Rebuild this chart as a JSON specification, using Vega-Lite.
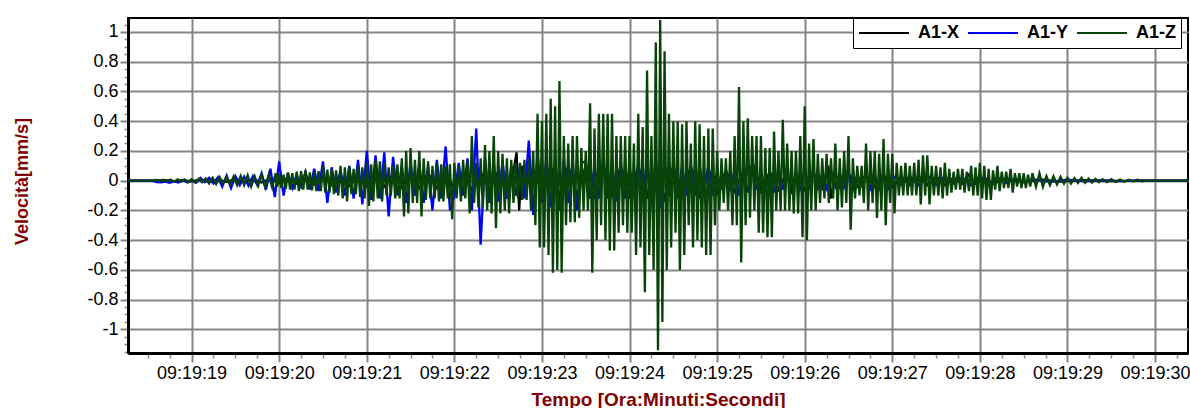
{
  "$schema": "https://vega.github.io/schema/vega-lite/v6.json",
  "width": 1060,
  "height": 335,
  "autosize": "none",
  "padding": {"left": 128, "top": 18, "right": 2, "bottom": 55},
  "background": "white",
  "config": {
    "view": {"stroke": "black", "strokeWidth": 2},
    "font": "Liberation Sans"
  },
  "data": {"values": [
    {"t":18.274,"c":"X","v":0},{"t":18.55,"c":"X","v":0},{"t":18.7,"c":"X","v":0.003},{"t":18.8,"c":"X","v":-0.004},{"t":18.9,"c":"X","v":0.004},{"t":19.0,"c":"X","v":-0.005},{"t":19.1,"c":"X","v":0.006},{"t":19.2,"c":"X","v":-0.006},{"t":19.3,"c":"X","v":0.007},{"t":19.4,"c":"X","v":-0.008},{"t":19.5,"c":"X","v":0.01},{"t":19.6,"c":"X","v":-0.01},{"t":19.7,"c":"X","v":0.012},{"t":19.8,"c":"X","v":-0.012},{"t":19.9,"c":"X","v":0.015},{"t":20.0,"c":"X","v":-0.015},
    {"t":20.1,"c":"X","v":0.02},{"t":20.2,"c":"X","v":-0.02},{"t":20.3,"c":"X","v":0.025},{"t":20.4,"c":"X","v":-0.025},{"t":20.5,"c":"X","v":0.03},{"t":20.6,"c":"X","v":-0.03},{"t":20.7,"c":"X","v":0.03},{"t":20.8,"c":"X","v":-0.035},{"t":20.9,"c":"X","v":0.035},{"t":21.0,"c":"X","v":-0.04},{"t":21.1,"c":"X","v":0.04},{"t":21.2,"c":"X","v":-0.04},{"t":21.3,"c":"X","v":0.045},{"t":21.4,"c":"X","v":-0.045},{"t":21.5,"c":"X","v":0.05},{"t":21.6,"c":"X","v":-0.05},{"t":21.7,"c":"X","v":0.05},{"t":21.8,"c":"X","v":-0.05},{"t":21.9,"c":"X","v":0.055},{"t":22.0,"c":"X","v":-0.055},
    {"t":22.1,"c":"X","v":0.06},{"t":22.2,"c":"X","v":-0.06},{"t":22.3,"c":"X","v":0.06},{"t":22.4,"c":"X","v":-0.06},{"t":22.5,"c":"X","v":0.06},{"t":22.6,"c":"X","v":-0.07},{"t":22.68,"c":"X","v":0.08},{"t":22.71,"c":"X","v":0.19},{"t":22.74,"c":"X","v":-0.2},{"t":22.77,"c":"X","v":0.1},{"t":22.8,"c":"X","v":-0.07},{"t":22.9,"c":"X","v":0.08},{"t":23.0,"c":"X","v":-0.08},
    {"t":23.1,"c":"X","v":0.1},{"t":23.2,"c":"X","v":-0.1},{"t":23.3,"c":"X","v":0.1},{"t":23.4,"c":"X","v":-0.1},{"t":23.5,"c":"X","v":0.1},{"t":23.6,"c":"X","v":-0.1},{"t":23.7,"c":"X","v":0.1},{"t":23.8,"c":"X","v":-0.1},{"t":23.9,"c":"X","v":0.1},{"t":24.0,"c":"X","v":-0.1},{"t":24.1,"c":"X","v":0.1},{"t":24.2,"c":"X","v":-0.12},{"t":24.25,"c":"X","v":0.05},{"t":24.27,"c":"X","v":-0.23},{"t":24.3,"c":"X","v":0.1},{"t":24.4,"c":"X","v":-0.12},{"t":24.5,"c":"X","v":0.1},{"t":24.6,"c":"X","v":-0.1},{"t":24.7,"c":"X","v":0.1},{"t":24.8,"c":"X","v":-0.1},{"t":24.9,"c":"X","v":0.08},{"t":25.0,"c":"X","v":-0.08},
    {"t":25.1,"c":"X","v":0.07},{"t":25.2,"c":"X","v":-0.07},{"t":25.3,"c":"X","v":0.07},{"t":25.42,"c":"X","v":0.1},{"t":25.5,"c":"X","v":-0.07},{"t":25.6,"c":"X","v":0.06},{"t":25.7,"c":"X","v":-0.06},{"t":25.8,"c":"X","v":0.06},{"t":25.85,"c":"X","v":-0.09},{"t":25.9,"c":"X","v":0.05},{"t":26.0,"c":"X","v":-0.06},{"t":26.1,"c":"X","v":0.05},{"t":26.2,"c":"X","v":-0.05},{"t":26.27,"c":"X","v":0.1},{"t":26.3,"c":"X","v":-0.12},{"t":26.35,"c":"X","v":0.05},{"t":26.4,"c":"X","v":-0.04},{"t":26.5,"c":"X","v":0.05},{"t":26.6,"c":"X","v":-0.04},{"t":26.7,"c":"X","v":0.04},{"t":26.8,"c":"X","v":-0.04},{"t":26.9,"c":"X","v":0.04},{"t":27.0,"c":"X","v":-0.04},
    {"t":27.1,"c":"X","v":0.03},{"t":27.2,"c":"X","v":-0.03},{"t":27.3,"c":"X","v":0.03},{"t":27.4,"c":"X","v":-0.03},{"t":27.5,"c":"X","v":0.03},{"t":27.6,"c":"X","v":-0.03},{"t":27.7,"c":"X","v":0.02},{"t":27.8,"c":"X","v":-0.02},{"t":27.87,"c":"X","v":0.04},{"t":27.95,"c":"X","v":-0.02},{"t":28.05,"c":"X","v":0.02},{"t":28.15,"c":"X","v":-0.02},{"t":28.3,"c":"X","v":0.015},{"t":28.5,"c":"X","v":-0.01},{"t":28.7,"c":"X","v":0.008},{"t":28.9,"c":"X","v":-0.006},{"t":29.2,"c":"X","v":0.004},{"t":29.5,"c":"X","v":-0.003},{"t":29.9,"c":"X","v":0},{"t":30.376,"c":"X","v":0},

    {"t":18.274,"c":"Y","v":0},{"t":18.55,"c":"Y","v":0},{"t":18.6,"c":"Y","v":-0.01},{"t":18.65,"c":"Y","v":-0.012},{"t":18.7,"c":"Y","v":-0.006},{"t":18.75,"c":"Y","v":-0.014},{"t":18.8,"c":"Y","v":-0.005},{"t":18.85,"c":"Y","v":-0.013},{"t":18.9,"c":"Y","v":0.004},{"t":18.95,"c":"Y","v":-0.012},{"t":19.0,"c":"Y","v":0.006},{"t":19.05,"c":"Y","v":-0.014},{"t":19.1,"c":"Y","v":0.018},{"t":19.15,"c":"Y","v":-0.01},{"t":19.2,"c":"Y","v":0.02},{"t":19.25,"c":"Y","v":-0.02},{"t":19.3,"c":"Y","v":0.022},{"t":19.35,"c":"Y","v":-0.04},{"t":19.4,"c":"Y","v":0.035},{"t":19.45,"c":"Y","v":-0.05},{"t":19.5,"c":"Y","v":0.03},{"t":19.55,"c":"Y","v":-0.03},{"t":19.6,"c":"Y","v":0.028},{"t":19.65,"c":"Y","v":-0.035},{"t":19.7,"c":"Y","v":0.03},{"t":19.75,"c":"Y","v":-0.03},{"t":19.8,"c":"Y","v":0.05},{"t":19.85,"c":"Y","v":-0.06},{"t":19.9,"c":"Y","v":0.08},{"t":19.95,"c":"Y","v":-0.11},{"t":20.0,"c":"Y","v":0.13},
    {"t":20.05,"c":"Y","v":-0.1},{"t":20.1,"c":"Y","v":0.05},{"t":20.15,"c":"Y","v":-0.05},{"t":20.2,"c":"Y","v":0.04},{"t":20.25,"c":"Y","v":-0.04},{"t":20.3,"c":"Y","v":0.06},{"t":20.35,"c":"Y","v":-0.06},{"t":20.4,"c":"Y","v":0.08},{"t":20.45,"c":"Y","v":-0.07},{"t":20.5,"c":"Y","v":0.13},{"t":20.55,"c":"Y","v":-0.15},{"t":20.6,"c":"Y","v":0.09},{"t":20.65,"c":"Y","v":-0.08},{"t":20.7,"c":"Y","v":0.07},{"t":20.75,"c":"Y","v":-0.1},{"t":20.8,"c":"Y","v":0.1},{"t":20.85,"c":"Y","v":-0.12},{"t":20.9,"c":"Y","v":0.14},{"t":20.95,"c":"Y","v":-0.16},{"t":21.0,"c":"Y","v":0.2},
    {"t":21.05,"c":"Y","v":-0.13},{"t":21.1,"c":"Y","v":0.17},{"t":21.15,"c":"Y","v":-0.12},{"t":21.2,"c":"Y","v":0.19},{"t":21.25,"c":"Y","v":-0.24},{"t":21.3,"c":"Y","v":0.16},{"t":21.35,"c":"Y","v":-0.1},{"t":21.4,"c":"Y","v":0.1},{"t":21.45,"c":"Y","v":-0.15},{"t":21.5,"c":"Y","v":0.12},{"t":21.55,"c":"Y","v":-0.1},{"t":21.6,"c":"Y","v":0.12},{"t":21.65,"c":"Y","v":-0.15},{"t":21.7,"c":"Y","v":0.1},{"t":21.75,"c":"Y","v":-0.2},{"t":21.8,"c":"Y","v":0.14},{"t":21.85,"c":"Y","v":-0.12},{"t":21.9,"c":"Y","v":0.23},{"t":21.95,"c":"Y","v":-0.2},
    {"t":22.0,"c":"Y","v":-0.1},{"t":22.05,"c":"Y","v":0.12},{"t":22.1,"c":"Y","v":-0.1},{"t":22.15,"c":"Y","v":0.15},{"t":22.2,"c":"Y","v":-0.2},{"t":22.25,"c":"Y","v":0.35},{"t":22.3,"c":"Y","v":-0.43},{"t":22.35,"c":"Y","v":0.15},{"t":22.4,"c":"Y","v":-0.15},{"t":22.45,"c":"Y","v":0.12},{"t":22.5,"c":"Y","v":-0.14},{"t":22.55,"c":"Y","v":0.13},{"t":22.6,"c":"Y","v":-0.12},{"t":22.65,"c":"Y","v":0.1},{"t":22.7,"c":"Y","v":-0.1},{"t":22.75,"c":"Y","v":0.1},{"t":22.8,"c":"Y","v":-0.12},{"t":22.85,"c":"Y","v":0.27},{"t":22.9,"c":"Y","v":-0.23},{"t":22.95,"c":"Y","v":0.18},{"t":23.0,"c":"Y","v":-0.15},
    {"t":23.05,"c":"Y","v":0.15},{"t":23.1,"c":"Y","v":-0.18},{"t":23.15,"c":"Y","v":0.15},{"t":23.2,"c":"Y","v":-0.2},{"t":23.25,"c":"Y","v":0.15},{"t":23.3,"c":"Y","v":-0.15},{"t":23.35,"c":"Y","v":0.12},{"t":23.4,"c":"Y","v":-0.2},{"t":23.45,"c":"Y","v":0.12},{"t":23.5,"c":"Y","v":0.13},{"t":23.55,"c":"Y","v":-0.12},{"t":23.6,"c":"Y","v":0.1},{"t":23.65,"c":"Y","v":-0.12},{"t":23.7,"c":"Y","v":0.14},{"t":23.75,"c":"Y","v":-0.12},{"t":23.8,"c":"Y","v":0.12},{"t":23.85,"c":"Y","v":-0.14},{"t":23.9,"c":"Y","v":0.1},{"t":23.95,"c":"Y","v":-0.12},{"t":24.0,"c":"Y","v":0.1},
    {"t":24.05,"c":"Y","v":-0.12},{"t":24.1,"c":"Y","v":0.12},{"t":24.15,"c":"Y","v":-0.1},{"t":24.2,"c":"Y","v":0.14},{"t":24.25,"c":"Y","v":-0.12},{"t":24.3,"c":"Y","v":0.15},{"t":24.35,"c":"Y","v":-0.18},{"t":24.4,"c":"Y","v":0.12},{"t":24.45,"c":"Y","v":-0.1},{"t":24.5,"c":"Y","v":0.1},{"t":24.55,"c":"Y","v":-0.12},{"t":24.6,"c":"Y","v":0.1},{"t":24.65,"c":"Y","v":-0.1},{"t":24.7,"c":"Y","v":0.08},{"t":24.75,"c":"Y","v":-0.1},{"t":24.8,"c":"Y","v":0.1},{"t":24.85,"c":"Y","v":-0.08},{"t":24.9,"c":"Y","v":0.1},{"t":24.95,"c":"Y","v":-0.1},
    {"t":25.0,"c":"Y","v":0.06},{"t":25.05,"c":"Y","v":-0.06},{"t":25.1,"c":"Y","v":0.06},{"t":25.15,"c":"Y","v":-0.07},{"t":25.2,"c":"Y","v":0.08},{"t":25.25,"c":"Y","v":-0.1},{"t":25.3,"c":"Y","v":0.08},{"t":25.35,"c":"Y","v":-0.08},{"t":25.4,"c":"Y","v":0.07},{"t":25.45,"c":"Y","v":-0.06},{"t":25.5,"c":"Y","v":0.07},{"t":25.55,"c":"Y","v":-0.08},{"t":25.6,"c":"Y","v":0.06},{"t":25.65,"c":"Y","v":-0.08},{"t":25.7,"c":"Y","v":0.07},{"t":25.75,"c":"Y","v":-0.06},{"t":25.8,"c":"Y","v":0.06},{"t":25.85,"c":"Y","v":-0.06},{"t":25.9,"c":"Y","v":0.05},{"t":25.95,"c":"Y","v":-0.07},
    {"t":26.0,"c":"Y","v":0.08},{"t":26.05,"c":"Y","v":-0.06},{"t":26.1,"c":"Y","v":0.05},{"t":26.15,"c":"Y","v":-0.05},{"t":26.2,"c":"Y","v":0.04},{"t":26.25,"c":"Y","v":-0.05},{"t":26.3,"c":"Y","v":0.05},{"t":26.35,"c":"Y","v":-0.04},{"t":26.4,"c":"Y","v":0.05},{"t":26.45,"c":"Y","v":-0.04},{"t":26.5,"c":"Y","v":0.06},{"t":26.55,"c":"Y","v":-0.06},{"t":26.6,"c":"Y","v":0.04},{"t":26.65,"c":"Y","v":-0.03},{"t":26.7,"c":"Y","v":0.04},{"t":26.75,"c":"Y","v":-0.05},{"t":26.8,"c":"Y","v":0.04},{"t":26.85,"c":"Y","v":-0.05},{"t":26.9,"c":"Y","v":0.05},{"t":26.95,"c":"Y","v":-0.05},
    {"t":27.0,"c":"Y","v":0.04},{"t":27.1,"c":"Y","v":-0.03},{"t":27.2,"c":"Y","v":0.03},{"t":27.3,"c":"Y","v":-0.03},{"t":27.4,"c":"Y","v":0.04},{"t":27.5,"c":"Y","v":-0.03},{"t":27.6,"c":"Y","v":0.03},{"t":27.7,"c":"Y","v":-0.02},{"t":27.8,"c":"Y","v":0.02},{"t":27.9,"c":"Y","v":-0.03},{"t":28.0,"c":"Y","v":0.03},{"t":28.1,"c":"Y","v":-0.03},{"t":28.2,"c":"Y","v":0.02},{"t":28.3,"c":"Y","v":-0.015},{"t":28.4,"c":"Y","v":0.015},{"t":28.5,"c":"Y","v":-0.01},{"t":28.6,"c":"Y","v":0.01},{"t":28.8,"c":"Y","v":-0.008},{"t":29.0,"c":"Y","v":0.006},{"t":29.2,"c":"Y","v":-0.005},{"t":29.4,"c":"Y","v":0.004},{"t":29.6,"c":"Y","v":-0.003},{"t":29.8,"c":"Y","v":0.002},{"t":29.9,"c":"Y","v":0},{"t":30.376,"c":"Y","v":0},

    {"t":18.274,"c":"Z","v":0},{"t":18.55,"c":"Z","v":0},{"t":18.6,"c":"Z","v":0.005},{"t":18.64,"c":"Z","v":-0.005},{"t":18.68,"c":"Z","v":0.006},{"t":18.72,"c":"Z","v":-0.006},{"t":18.76,"c":"Z","v":0.007},{"t":18.8,"c":"Z","v":-0.008},{"t":18.84,"c":"Z","v":0.008},{"t":18.88,"c":"Z","v":-0.007},{"t":18.92,"c":"Z","v":0.009},{"t":18.96,"c":"Z","v":-0.01},
    {"t":19.0,"c":"Z","v":0.01},{"t":19.04,"c":"Z","v":-0.012},{"t":19.08,"c":"Z","v":0.012},{"t":19.12,"c":"Z","v":-0.01},{"t":19.16,"c":"Z","v":0.014},{"t":19.2,"c":"Z","v":-0.018},{"t":19.24,"c":"Z","v":0.02},{"t":19.28,"c":"Z","v":-0.022},{"t":19.32,"c":"Z","v":0.025},{"t":19.36,"c":"Z","v":-0.02},{"t":19.4,"c":"Z","v":0.022},{"t":19.44,"c":"Z","v":-0.025},{"t":19.48,"c":"Z","v":0.028},{"t":19.52,"c":"Z","v":-0.03},{"t":19.56,"c":"Z","v":0.032},{"t":19.6,"c":"Z","v":-0.03},{"t":19.64,"c":"Z","v":0.035},{"t":19.68,"c":"Z","v":-0.04},{"t":19.72,"c":"Z","v":0.03},{"t":19.76,"c":"Z","v":-0.035},{"t":19.8,"c":"Z","v":0.04},{"t":19.84,"c":"Z","v":-0.045},{"t":19.88,"c":"Z","v":0.04},{"t":19.92,"c":"Z","v":-0.045},{"t":19.96,"c":"Z","v":0.05},{"t":19.98,"c":"Z","v":-0.04},
    {"t":20.0,"c":"Z","v":0.045},{"t":20.025,"c":"Z","v":-0.05},{"t":20.05,"c":"Z","v":0.04},{"t":20.075,"c":"Z","v":-0.055},
    {"t":20.1,"c":"Z","v":0.055},{"t":20.125,"c":"Z","v":-0.06},{"t":20.15,"c":"Z","v":0.05},{"t":20.175,"c":"Z","v":-0.06},
    {"t":20.2,"c":"Z","v":0.06},{"t":20.225,"c":"Z","v":-0.07},{"t":20.25,"c":"Z","v":0.065},{"t":20.275,"c":"Z","v":-0.06},
    {"t":20.3,"c":"Z","v":0.07},{"t":20.325,"c":"Z","v":-0.06},{"t":20.35,"c":"Z","v":0.055},{"t":20.375,"c":"Z","v":-0.065},
    {"t":20.4,"c":"Z","v":0.06},{"t":20.425,"c":"Z","v":-0.07},{"t":20.45,"c":"Z","v":0.065},{"t":20.475,"c":"Z","v":-0.07},
    {"t":20.5,"c":"Z","v":0.1},{"t":20.525,"c":"Z","v":-0.08},{"t":20.55,"c":"Z","v":0.075},{"t":20.575,"c":"Z","v":-0.08},
    {"t":20.6,"c":"Z","v":0.08},{"t":20.625,"c":"Z","v":-0.09},{"t":20.65,"c":"Z","v":0.07},{"t":20.675,"c":"Z","v":-0.1},
    {"t":20.7,"c":"Z","v":0.1},{"t":20.725,"c":"Z","v":-0.12},{"t":20.75,"c":"Z","v":0.09},{"t":20.775,"c":"Z","v":-0.14},
    {"t":20.8,"c":"Z","v":0.1},{"t":20.825,"c":"Z","v":-0.09},{"t":20.85,"c":"Z","v":0.08},{"t":20.875,"c":"Z","v":-0.09},
    {"t":20.9,"c":"Z","v":0.1},{"t":20.925,"c":"Z","v":-0.11},{"t":20.95,"c":"Z","v":0.09},{"t":20.975,"c":"Z","v":-0.12},
    {"t":21.0,"c":"Z","v":0.12},{"t":21.025,"c":"Z","v":-0.17},{"t":21.05,"c":"Z","v":0.11},{"t":21.075,"c":"Z","v":-0.14},
    {"t":21.1,"c":"Z","v":0.14},{"t":21.125,"c":"Z","v":-0.12},{"t":21.15,"c":"Z","v":0.13},{"t":21.175,"c":"Z","v":-0.14},
    {"t":21.2,"c":"Z","v":0.12},{"t":21.225,"c":"Z","v":-0.1},{"t":21.25,"c":"Z","v":0.09},{"t":21.275,"c":"Z","v":-0.1},
    {"t":21.3,"c":"Z","v":0.1},{"t":21.325,"c":"Z","v":-0.12},{"t":21.35,"c":"Z","v":0.11},{"t":21.375,"c":"Z","v":-0.12},
    {"t":21.4,"c":"Z","v":0.15},{"t":21.425,"c":"Z","v":-0.24},{"t":21.45,"c":"Z","v":0.2},{"t":21.475,"c":"Z","v":-0.22},
    {"t":21.5,"c":"Z","v":0.22},{"t":21.525,"c":"Z","v":-0.15},{"t":21.55,"c":"Z","v":0.14},{"t":21.575,"c":"Z","v":-0.15},
    {"t":21.6,"c":"Z","v":0.2},{"t":21.625,"c":"Z","v":-0.24},{"t":21.65,"c":"Z","v":0.15},{"t":21.675,"c":"Z","v":-0.13},
    {"t":21.7,"c":"Z","v":0.13},{"t":21.725,"c":"Z","v":-0.12},{"t":21.75,"c":"Z","v":0.1},{"t":21.775,"c":"Z","v":-0.12},
    {"t":21.8,"c":"Z","v":0.12},{"t":21.825,"c":"Z","v":-0.14},{"t":21.85,"c":"Z","v":0.11},{"t":21.875,"c":"Z","v":-0.14},
    {"t":21.9,"c":"Z","v":0.1},{"t":21.925,"c":"Z","v":-0.12},{"t":21.95,"c":"Z","v":0.11},{"t":21.975,"c":"Z","v":-0.26},
    {"t":22.0,"c":"Z","v":0.12},{"t":22.025,"c":"Z","v":-0.12},{"t":22.05,"c":"Z","v":0.1},{"t":22.075,"c":"Z","v":-0.14},
    {"t":22.1,"c":"Z","v":0.14},{"t":22.125,"c":"Z","v":-0.12},{"t":22.15,"c":"Z","v":0.13},{"t":22.175,"c":"Z","v":-0.22},
    {"t":22.2,"c":"Z","v":0.3},{"t":22.225,"c":"Z","v":-0.15},{"t":22.25,"c":"Z","v":0.12},{"t":22.275,"c":"Z","v":-0.18},
    {"t":22.3,"c":"Z","v":0.15},{"t":22.325,"c":"Z","v":-0.18},{"t":22.35,"c":"Z","v":0.24},{"t":22.375,"c":"Z","v":-0.2},
    {"t":22.4,"c":"Z","v":0.2},{"t":22.425,"c":"Z","v":-0.22},{"t":22.45,"c":"Z","v":0.3},{"t":22.475,"c":"Z","v":-0.32},
    {"t":22.5,"c":"Z","v":0.2},{"t":22.525,"c":"Z","v":-0.22},{"t":22.55,"c":"Z","v":0.18},{"t":22.575,"c":"Z","v":-0.2},
    {"t":22.6,"c":"Z","v":0.15},{"t":22.625,"c":"Z","v":-0.22},{"t":22.65,"c":"Z","v":0.14},{"t":22.675,"c":"Z","v":-0.15},
    {"t":22.7,"c":"Z","v":0.12},{"t":22.725,"c":"Z","v":-0.12},{"t":22.75,"c":"Z","v":0.12},{"t":22.775,"c":"Z","v":-0.13},
    {"t":22.8,"c":"Z","v":0.14},{"t":22.825,"c":"Z","v":-0.13},{"t":22.85,"c":"Z","v":0.15},{"t":22.875,"c":"Z","v":-0.2},
    {"t":22.9,"c":"Z","v":0.2},{"t":22.925,"c":"Z","v":-0.3},{"t":22.95,"c":"Z","v":0.45},{"t":22.975,"c":"Z","v":-0.45},
    {"t":23.0,"c":"Z","v":0.4},{"t":23.025,"c":"Z","v":-0.45},{"t":23.05,"c":"Z","v":0.45},{"t":23.075,"c":"Z","v":-0.5},
    {"t":23.1,"c":"Z","v":0.55},{"t":23.125,"c":"Z","v":-0.62},{"t":23.15,"c":"Z","v":0.5},{"t":23.175,"c":"Z","v":-0.6},
    {"t":23.2,"c":"Z","v":0.67},{"t":23.225,"c":"Z","v":-0.62},{"t":23.25,"c":"Z","v":0.3},{"t":23.275,"c":"Z","v":-0.3},
    {"t":23.3,"c":"Z","v":0.25},{"t":23.325,"c":"Z","v":-0.28},{"t":23.35,"c":"Z","v":0.3},{"t":23.375,"c":"Z","v":-0.28},
    {"t":23.4,"c":"Z","v":0.3},{"t":23.425,"c":"Z","v":-0.25},{"t":23.45,"c":"Z","v":0.22},{"t":23.475,"c":"Z","v":-0.2},
    {"t":23.5,"c":"Z","v":0.2},{"t":23.525,"c":"Z","v":-0.2},{"t":23.55,"c":"Z","v":0.52},{"t":23.575,"c":"Z","v":-0.62},
    {"t":23.6,"c":"Z","v":0.35},{"t":23.625,"c":"Z","v":-0.4},{"t":23.65,"c":"Z","v":0.45},{"t":23.675,"c":"Z","v":-0.3},
    {"t":23.7,"c":"Z","v":0.45},{"t":23.725,"c":"Z","v":-0.4},{"t":23.75,"c":"Z","v":0.45},{"t":23.775,"c":"Z","v":-0.47},
    {"t":23.8,"c":"Z","v":0.45},{"t":23.825,"c":"Z","v":-0.47},{"t":23.85,"c":"Z","v":0.3},{"t":23.875,"c":"Z","v":-0.35},
    {"t":23.9,"c":"Z","v":0.3},{"t":23.925,"c":"Z","v":-0.3},{"t":23.95,"c":"Z","v":0.3},{"t":23.975,"c":"Z","v":-0.35},
    {"t":24.0,"c":"Z","v":0.3},{"t":24.025,"c":"Z","v":-0.35},{"t":24.05,"c":"Z","v":0.25},{"t":24.075,"c":"Z","v":-0.5},
    {"t":24.1,"c":"Z","v":0.45},{"t":24.125,"c":"Z","v":-0.45},{"t":24.15,"c":"Z","v":0.36},{"t":24.175,"c":"Z","v":-0.75},
    {"t":24.2,"c":"Z","v":0.74},{"t":24.225,"c":"Z","v":-0.5},{"t":24.25,"c":"Z","v":0.3},{"t":24.275,"c":"Z","v":-0.6},
    {"t":24.3,"c":"Z","v":0.93},{"t":24.325,"c":"Z","v":-1.14},{"t":24.35,"c":"Z","v":1.08},{"t":24.375,"c":"Z","v":-0.95},
    {"t":24.4,"c":"Z","v":0.87},{"t":24.425,"c":"Z","v":-0.6},{"t":24.45,"c":"Z","v":0.45},{"t":24.475,"c":"Z","v":-0.45},
    {"t":24.5,"c":"Z","v":0.4},{"t":24.525,"c":"Z","v":-0.35},{"t":24.55,"c":"Z","v":0.4},{"t":24.575,"c":"Z","v":-0.6},
    {"t":24.6,"c":"Z","v":0.38},{"t":24.625,"c":"Z","v":-0.5},{"t":24.65,"c":"Z","v":0.4},{"t":24.675,"c":"Z","v":-0.3},
    {"t":24.7,"c":"Z","v":0.25},{"t":24.725,"c":"Z","v":-0.45},{"t":24.75,"c":"Z","v":0.4},{"t":24.775,"c":"Z","v":-0.4},
    {"t":24.8,"c":"Z","v":0.38},{"t":24.825,"c":"Z","v":-0.45},{"t":24.85,"c":"Z","v":0.3},{"t":24.875,"c":"Z","v":-0.5},
    {"t":24.9,"c":"Z","v":0.35},{"t":24.925,"c":"Z","v":-0.5},{"t":24.95,"c":"Z","v":0.35},{"t":24.975,"c":"Z","v":-0.3},
    {"t":25.0,"c":"Z","v":0.2},{"t":25.025,"c":"Z","v":-0.2},{"t":25.05,"c":"Z","v":0.15},{"t":25.075,"c":"Z","v":-0.15},
    {"t":25.1,"c":"Z","v":0.15},{"t":25.125,"c":"Z","v":-0.2},{"t":25.15,"c":"Z","v":0.2},{"t":25.175,"c":"Z","v":-0.3},
    {"t":25.2,"c":"Z","v":0.3},{"t":25.225,"c":"Z","v":-0.3},{"t":25.25,"c":"Z","v":0.63},{"t":25.275,"c":"Z","v":-0.55},
    {"t":25.3,"c":"Z","v":0.4},{"t":25.325,"c":"Z","v":-0.3},{"t":25.35,"c":"Z","v":0.42},{"t":25.375,"c":"Z","v":-0.25},
    {"t":25.4,"c":"Z","v":0.3},{"t":25.425,"c":"Z","v":-0.2},{"t":25.45,"c":"Z","v":0.3},{"t":25.475,"c":"Z","v":-0.35},
    {"t":25.5,"c":"Z","v":0.3},{"t":25.525,"c":"Z","v":-0.35},{"t":25.55,"c":"Z","v":0.22},{"t":25.575,"c":"Z","v":-0.38},
    {"t":25.6,"c":"Z","v":0.22},{"t":25.625,"c":"Z","v":-0.38},{"t":25.65,"c":"Z","v":0.33},{"t":25.675,"c":"Z","v":-0.2},
    {"t":25.7,"c":"Z","v":0.2},{"t":25.725,"c":"Z","v":-0.2},{"t":25.75,"c":"Z","v":0.41},{"t":25.775,"c":"Z","v":-0.2},
    {"t":25.8,"c":"Z","v":0.25},{"t":25.825,"c":"Z","v":-0.2},{"t":25.85,"c":"Z","v":0.2},{"t":25.875,"c":"Z","v":-0.22},
    {"t":25.9,"c":"Z","v":0.2},{"t":25.925,"c":"Z","v":-0.22},{"t":25.95,"c":"Z","v":0.3},{"t":25.975,"c":"Z","v":-0.38},
    {"t":26.0,"c":"Z","v":0.5},{"t":26.025,"c":"Z","v":-0.4},{"t":26.05,"c":"Z","v":0.25},{"t":26.075,"c":"Z","v":-0.2},
    {"t":26.1,"c":"Z","v":0.28},{"t":26.125,"c":"Z","v":-0.2},{"t":26.15,"c":"Z","v":0.18},{"t":26.175,"c":"Z","v":-0.15},
    {"t":26.2,"c":"Z","v":0.15},{"t":26.225,"c":"Z","v":-0.12},{"t":26.25,"c":"Z","v":0.18},{"t":26.275,"c":"Z","v":-0.15},
    {"t":26.3,"c":"Z","v":0.15},{"t":26.325,"c":"Z","v":-0.12},{"t":26.35,"c":"Z","v":0.25},{"t":26.375,"c":"Z","v":-0.2},
    {"t":26.4,"c":"Z","v":0.15},{"t":26.425,"c":"Z","v":-0.18},{"t":26.45,"c":"Z","v":0.2},{"t":26.475,"c":"Z","v":-0.15},
    {"t":26.5,"c":"Z","v":0.3},{"t":26.525,"c":"Z","v":-0.33},{"t":26.55,"c":"Z","v":0.15},{"t":26.575,"c":"Z","v":-0.12},
    {"t":26.6,"c":"Z","v":0.1},{"t":26.625,"c":"Z","v":-0.1},{"t":26.65,"c":"Z","v":0.1},{"t":26.675,"c":"Z","v":-0.15},
    {"t":26.7,"c":"Z","v":0.25},{"t":26.725,"c":"Z","v":-0.2},{"t":26.75,"c":"Z","v":0.2},{"t":26.775,"c":"Z","v":-0.15},
    {"t":26.8,"c":"Z","v":0.2},{"t":26.825,"c":"Z","v":-0.25},{"t":26.85,"c":"Z","v":0.18},{"t":26.875,"c":"Z","v":-0.2},
    {"t":26.9,"c":"Z","v":0.28},{"t":26.925,"c":"Z","v":-0.3},{"t":26.95,"c":"Z","v":0.18},{"t":26.975,"c":"Z","v":-0.15},
    {"t":27.0,"c":"Z","v":0.18},{"t":27.025,"c":"Z","v":-0.22},{"t":27.05,"c":"Z","v":0.12},{"t":27.075,"c":"Z","v":-0.1},
    {"t":27.1,"c":"Z","v":0.1},{"t":27.125,"c":"Z","v":-0.1},{"t":27.15,"c":"Z","v":0.12},{"t":27.175,"c":"Z","v":-0.1},
    {"t":27.2,"c":"Z","v":0.1},{"t":27.225,"c":"Z","v":-0.1},{"t":27.25,"c":"Z","v":0.12},{"t":27.275,"c":"Z","v":-0.1},
    {"t":27.3,"c":"Z","v":0.14},{"t":27.325,"c":"Z","v":-0.16},{"t":27.35,"c":"Z","v":0.17},{"t":27.375,"c":"Z","v":-0.1},
    {"t":27.4,"c":"Z","v":0.17},{"t":27.425,"c":"Z","v":-0.16},{"t":27.45,"c":"Z","v":0.1},{"t":27.475,"c":"Z","v":-0.1},
    {"t":27.5,"c":"Z","v":0.1},{"t":27.525,"c":"Z","v":-0.1},{"t":27.55,"c":"Z","v":0.09},{"t":27.575,"c":"Z","v":-0.12},
    {"t":27.6,"c":"Z","v":0.12},{"t":27.625,"c":"Z","v":-0.1},{"t":27.65,"c":"Z","v":0.08},{"t":27.675,"c":"Z","v":-0.08},
    {"t":27.7,"c":"Z","v":0.06},{"t":27.725,"c":"Z","v":-0.06},{"t":27.75,"c":"Z","v":0.08},{"t":27.775,"c":"Z","v":-0.06},
    {"t":27.8,"c":"Z","v":0.08},{"t":27.825,"c":"Z","v":-0.08},{"t":27.85,"c":"Z","v":0.06},{"t":27.875,"c":"Z","v":-0.07},
    {"t":27.9,"c":"Z","v":0.1},{"t":27.925,"c":"Z","v":-0.1},{"t":27.95,"c":"Z","v":0.09},{"t":27.975,"c":"Z","v":-0.1},
    {"t":28.0,"c":"Z","v":0.12},{"t":28.025,"c":"Z","v":-0.12},{"t":28.05,"c":"Z","v":0.1},{"t":28.075,"c":"Z","v":-0.13},
    {"t":28.1,"c":"Z","v":0.08},{"t":28.125,"c":"Z","v":-0.13},{"t":28.15,"c":"Z","v":0.07},{"t":28.175,"c":"Z","v":-0.06},
    {"t":28.2,"c":"Z","v":0.1},{"t":28.225,"c":"Z","v":-0.07},{"t":28.25,"c":"Z","v":0.06},{"t":28.275,"c":"Z","v":-0.05},
    {"t":28.3,"c":"Z","v":0.06},{"t":28.325,"c":"Z","v":-0.05},{"t":28.35,"c":"Z","v":0.08},{"t":28.375,"c":"Z","v":-0.08},
    {"t":28.4,"c":"Z","v":0.05},{"t":28.425,"c":"Z","v":-0.04},{"t":28.45,"c":"Z","v":0.05},{"t":28.475,"c":"Z","v":-0.05},
    {"t":28.5,"c":"Z","v":0.05},{"t":28.525,"c":"Z","v":-0.05},{"t":28.55,"c":"Z","v":0.04},{"t":28.575,"c":"Z","v":-0.04},
    {"t":28.6,"c":"Z","v":0.05},{"t":28.64,"c":"Z","v":-0.04},{"t":28.68,"c":"Z","v":0.05},{"t":28.72,"c":"Z","v":-0.04},{"t":28.76,"c":"Z","v":0.03},{"t":28.8,"c":"Z","v":-0.03},{"t":28.84,"c":"Z","v":0.03},{"t":28.88,"c":"Z","v":-0.025},{"t":28.92,"c":"Z","v":0.025},{"t":28.96,"c":"Z","v":-0.02},
    {"t":29.0,"c":"Z","v":0.02},{"t":29.04,"c":"Z","v":-0.02},{"t":29.08,"c":"Z","v":0.018},{"t":29.12,"c":"Z","v":-0.015},{"t":29.16,"c":"Z","v":0.02},{"t":29.2,"c":"Z","v":-0.015},{"t":29.24,"c":"Z","v":0.015},{"t":29.28,"c":"Z","v":-0.012},{"t":29.32,"c":"Z","v":0.012},{"t":29.36,"c":"Z","v":-0.01},{"t":29.4,"c":"Z","v":0.01},{"t":29.45,"c":"Z","v":-0.01},{"t":29.5,"c":"Z","v":0.01},{"t":29.55,"c":"Z","v":-0.008},{"t":29.6,"c":"Z","v":0.008},{"t":29.65,"c":"Z","v":-0.007},{"t":29.7,"c":"Z","v":0.006},{"t":29.75,"c":"Z","v":-0.006},{"t":29.8,"c":"Z","v":0.006},{"t":29.85,"c":"Z","v":-0.004},{"t":29.9,"c":"Z","v":0},{"t":30.376,"c":"Z","v":0}
  ]},
  "resolve": {"axis": {"x": "independent", "y": "independent"}},
  "layer": [
    {
      "mark": {"type": "point", "opacity": 0},
      "encoding": {
        "x": {"field": "t", "type": "quantitative",
          "scale": {"domain": [18.274, 30.376], "nice": false, "zero": false},
          "axis": {"orient": "bottom", "values": [18.5,18.75,19.25,19.5,19.75,20.25,20.5,20.75,21.25,21.5,21.75,22.25,22.5,22.75,23.25,23.5,23.75,24.25,24.5,24.75,25.25,25.5,25.75,26.25,26.5,26.75,27.25,27.5,27.75,28.25,28.5,28.75,29.25,29.5,29.75,30.25],
            "labels": false, "grid": false, "domain": false, "ticks": true, "tickSize": 5, "tickColor": "#8c8c8c", "tickWidth": 1.5, "title": null}},
        "y": {"field": "v", "type": "quantitative",
          "scale": {"domain": [-1.159, 1.094], "nice": false, "zero": false},
          "axis": {"orient": "left", "values": [-1.15,-1.1,-1.05,-0.95,-0.9,-0.85,-0.75,-0.7,-0.65,-0.55,-0.5,-0.45,-0.35,-0.3,-0.25,-0.15,-0.1,-0.05,0.05,0.1,0.15,0.25,0.3,0.35,0.45,0.5,0.55,0.65,0.7,0.75,0.85,0.9,0.95,1.05],
            "labels": false, "grid": false, "domain": false, "ticks": true, "tickSize": 4, "tickColor": "#8c8c8c", "tickWidth": 1.5, "title": null}}
      }
    },
    {
      "mark": {"type": "line", "strokeWidth": 2.3, "clip": true},
      "encoding": {
        "x": {"field": "t", "type": "quantitative",
          "axis": {"orient": "bottom", "values": [19,20,21,22,23,24,25,26,27,28,29,30],
            "labelExpr": "'09:19:' + datum.value",
            "grid": true, "gridColor": "#858585", "gridWidth": 2,
            "tickColor": "#858585", "tickWidth": 2, "tickSize": 9,
            "domainColor": "black", "domainWidth": 3,
            "labelFont": "Liberation Sans", "labelFontSize": 18, "labelColor": "black", "labelPadding": 2,
            "labelOverlap": false, "labelFlush": false,
            "title": "Tempo [Ora:Minuti:Secondi]", "titleFont": "Liberation Sans", "titleFontSize": 19, "titleFontWeight": "bold", "titleColor": "#800000",
            "titleY": 52, "titleBaseline": "alphabetic"}},
        "y": {"field": "v", "type": "quantitative",
          "axis": {"orient": "left", "values": [-1,-0.8,-0.6,-0.4,-0.2,0,0.2,0.4,0.6,0.8,1],
            "labelExpr": "datum.value + ''",
            "grid": true, "gridColor": "#858585", "gridWidth": 2,
            "tickColor": "#858585", "tickWidth": 2, "tickSize": 8,
            "domainColor": "black", "domainWidth": 3,
            "labelFont": "Liberation Sans", "labelFontSize": 18, "labelColor": "black", "labelPadding": 2,
            "title": "Velocità[mm/s]", "titleFont": "Liberation Sans", "titleFontSize": 18, "titleFontWeight": "bold", "titleColor": "#800000",
            "titleX": -106, "titleY": 163, "titleAlign": "center", "titleBaseline": "middle", "titleAngle": -90}},
        "color": {"field": "c", "type": "nominal",
          "scale": {"domain": ["X", "Y", "Z"], "range": ["#000000", "#0000ff", "#084408"]},
          "legend": {"orient": "none", "legendX": 725, "legendY": 0, "direction": "horizontal", "title": null,
            "labelExpr": "'A1-' + datum.label",
            "symbolType": "stroke", "symbolSize": 2500, "symbolStrokeWidth": 2, "clipHeight": 20,
            "labelFont": "Liberation Sans", "labelFontSize": 18, "labelFontWeight": "bold", "labelColor": "black",
            "labelOffset": 8, "columnPadding": 7, "padding": 5,
            "fillColor": "white", "strokeColor": "black"}}
      }
    }
  ]
}
